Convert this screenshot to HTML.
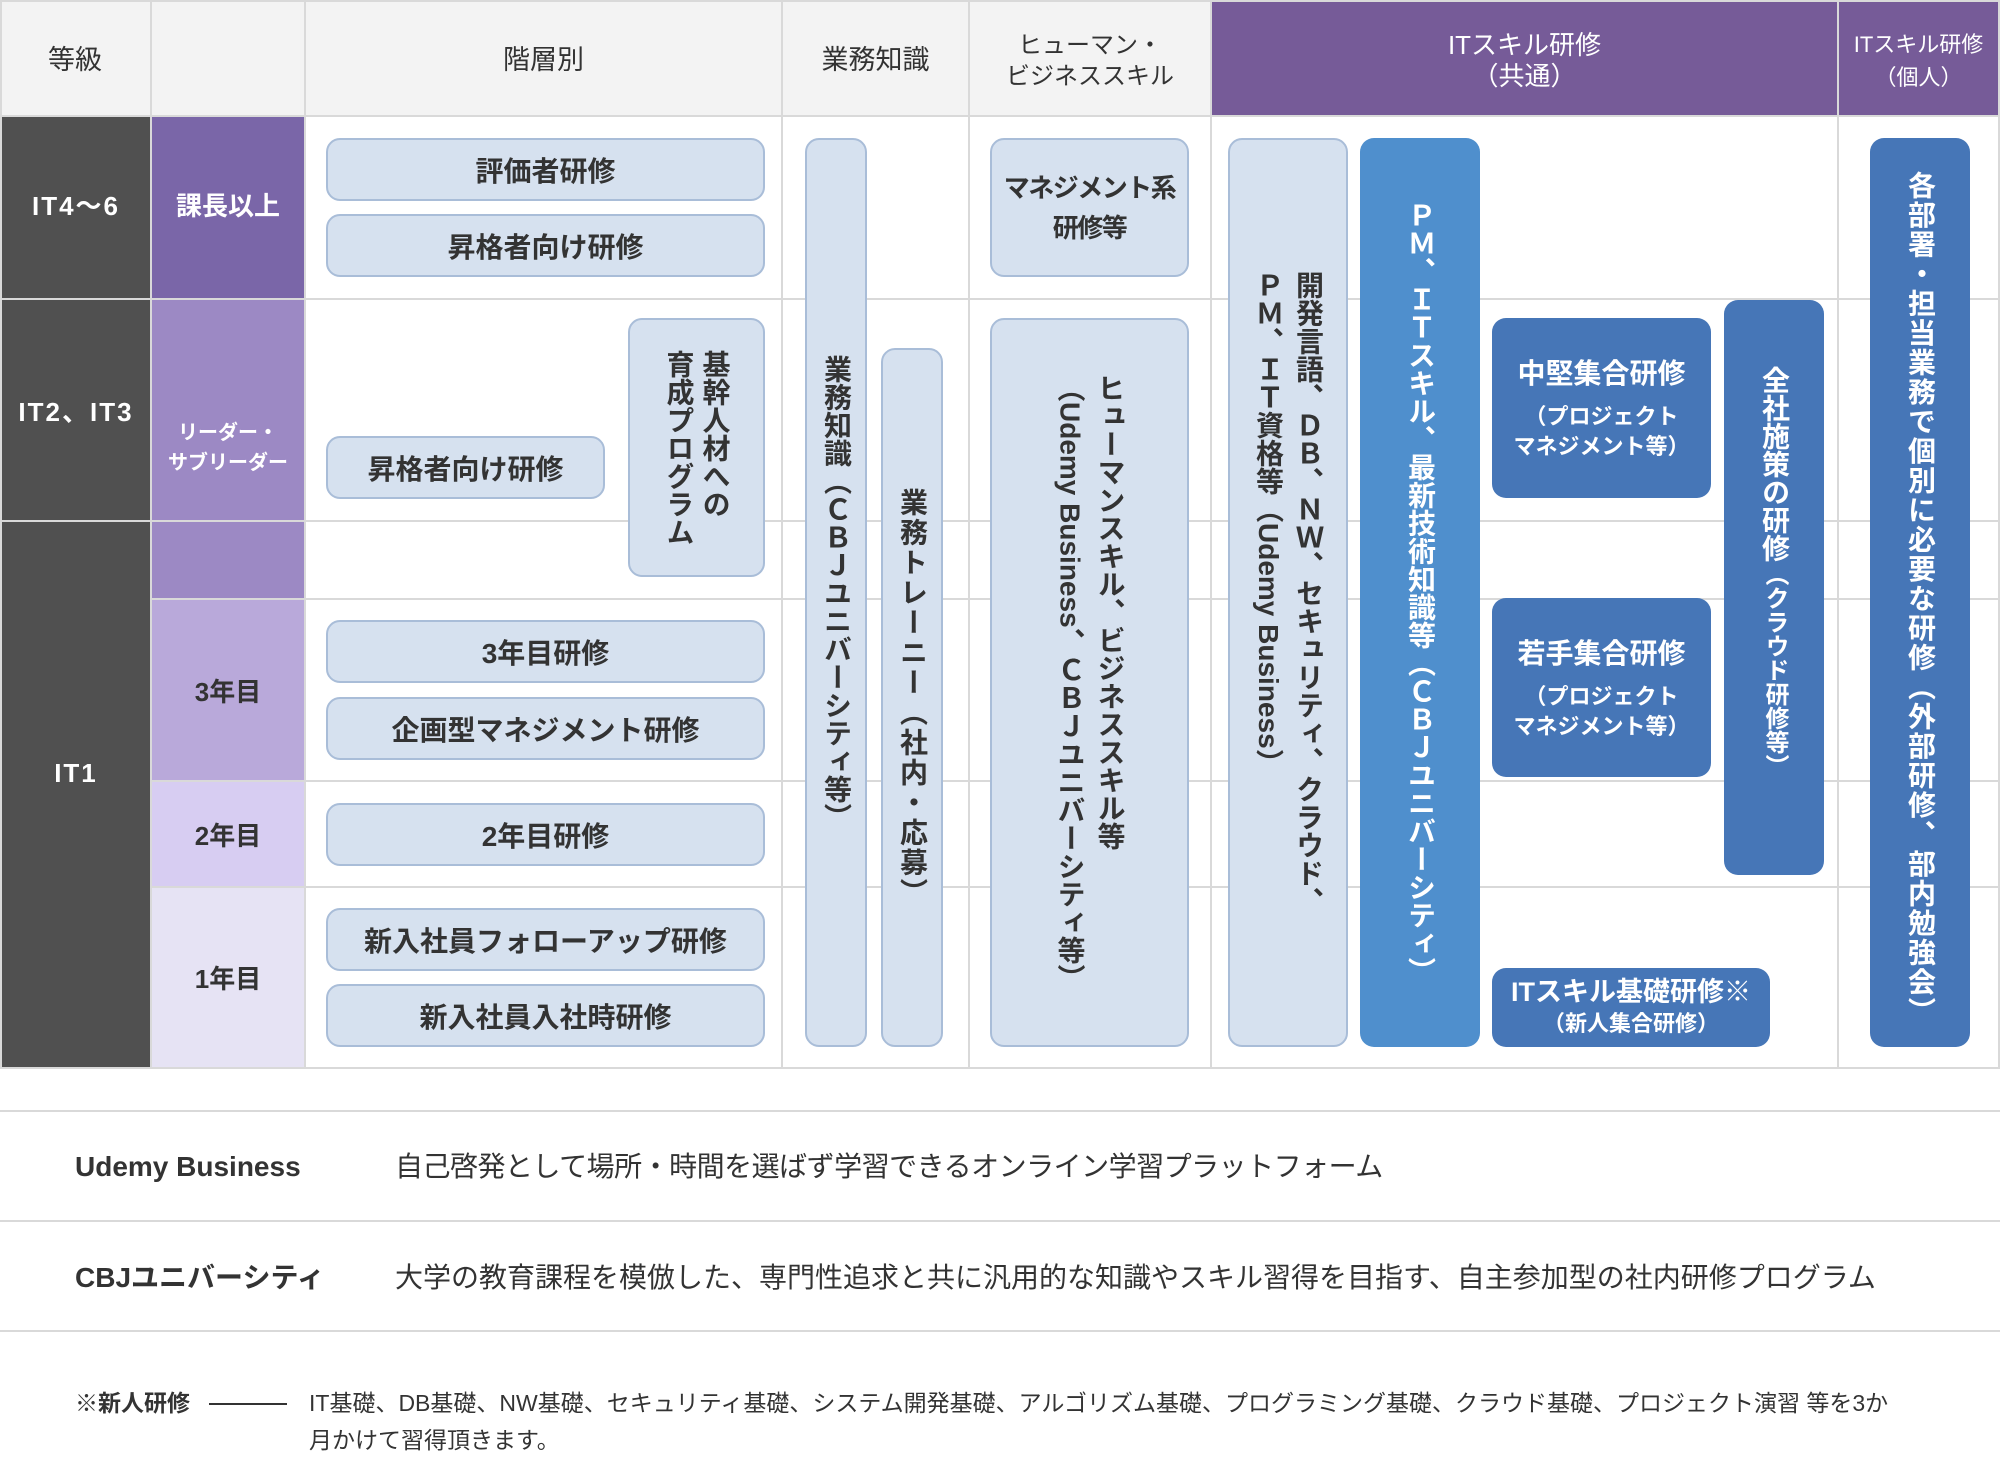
<!DOCTYPE html>
<html><head><meta charset="utf-8">
<style>
*{margin:0;padding:0;box-sizing:border-box}
html,body{width:2000px;height:1460px;background:#fff;overflow:hidden}
body{position:relative;font-family:"Liberation Sans","Noto Sans CJK JP",sans-serif;color:#333}
.a{position:absolute}
.c{position:absolute;display:flex;align-items:center;justify-content:center;text-align:center}
.hl{position:absolute;background:#d9d9d9;height:2px}
.vl{position:absolute;background:#d9d9d9;width:2px;top:0;height:1069px}
.lb{position:absolute;background:#d6e1ef;border:2px solid #a9bdd8;border-radius:14px;display:flex;align-items:center;justify-content:center;font-size:28px;font-weight:bold;color:#333;text-align:center}
.bb{position:absolute;background:#4676b7;border-radius:14px;color:#fff;font-weight:bold;display:flex;align-items:center;justify-content:center;text-align:center}
.v{writing-mode:vertical-rl;font-size:28px;line-height:1;text-align:start;white-space:nowrap}
.hd{font-size:27px;line-height:31px;padding-top:6px}
</style></head><body>

<!-- header backgrounds -->
<div class="a" style="left:0;top:0;width:1211px;height:116px;background:#f3f3f3"></div>
<div class="a" style="left:1211px;top:0;width:789px;height:116px;background:#765b98"></div>

<!-- body column backgrounds -->
<div class="a" style="left:0;top:117px;width:151px;height:951px;background:#505050"></div>
<div class="a" style="left:151px;top:117px;width:154px;height:182px;background:#7a66a8"></div>
<div class="a" style="left:151px;top:299px;width:154px;height:300px;background:#9c89c4"></div>
<div class="a" style="left:151px;top:599px;width:154px;height:182px;background:#b9a9da"></div>
<div class="a" style="left:151px;top:781px;width:154px;height:106px;background:#d7cdf2"></div>
<div class="a" style="left:151px;top:887px;width:154px;height:181px;background:#e6e3f4"></div>

<!-- grid lines -->
<div class="hl" style="left:0;top:0;width:2000px"></div>
<div class="hl" style="left:0;top:115px;width:2000px"></div>
<div class="hl" style="left:0;top:298px;width:2000px"></div>
<div class="hl" style="left:0;top:520px;width:2000px"></div>
<div class="hl" style="left:151px;top:598px;width:1849px"></div>
<div class="hl" style="left:151px;top:780px;width:1849px"></div>
<div class="hl" style="left:151px;top:886px;width:1849px"></div>
<div class="hl" style="left:0;top:1067px;width:2000px"></div>
<div class="vl" style="left:0"></div>
<div class="vl" style="left:150px"></div>
<div class="vl" style="left:304px"></div>
<div class="vl" style="left:781px"></div>
<div class="vl" style="left:968px"></div>
<div class="vl" style="left:1210px"></div>
<div class="vl" style="left:1837px"></div>
<div class="vl" style="left:1998px"></div>

<!-- header texts -->
<div class="c hd" style="left:0;top:0;width:150px;height:115px">等級</div>
<div class="c hd" style="left:306px;top:0;width:475px;height:115px">階層別</div>
<div class="c hd" style="left:783px;top:0;width:185px;height:115px">業務知識</div>
<div class="c hd" style="left:970px;top:0;width:240px;height:115px;font-size:24px">ヒューマン・<br>ビジネススキル</div>
<div class="c hd" style="left:1212px;top:0;width:625px;height:115px;color:#fff;font-size:26px">ITスキル研修<br>（共通）</div>
<div class="c hd" style="left:1839px;top:0;width:159px;height:115px;color:#fff;font-size:22px;line-height:33px;white-space:nowrap">ITスキル研修<br>（個人）</div>

<!-- left column labels -->
<div class="c" style="left:2px;top:117px;width:148px;height:174px;color:#fff;font-weight:bold;font-size:26px;letter-spacing:2px">IT4〜6</div>
<div class="c" style="left:2px;top:300px;width:148px;height:220px;color:#fff;font-weight:bold;font-size:26px;letter-spacing:2px">IT2、IT3</div>
<div class="c" style="left:2px;top:521px;width:148px;height:504px;color:#fff;font-weight:bold;font-size:26px;letter-spacing:2px">IT1</div>

<div class="c" style="left:152px;top:117px;width:152px;height:174px;color:#fff;font-weight:bold;font-size:26px">課長以上</div>
<div class="c" style="left:152px;top:300px;width:152px;height:296px;color:#fff;font-weight:bold;font-size:20px;line-height:30px">リーダー・<br>サブリーダー</div>
<div class="c" style="left:152px;top:600px;width:152px;height:180px;font-weight:bold;font-size:26px">3年目</div>
<div class="c" style="left:152px;top:782px;width:152px;height:104px;font-weight:bold;font-size:26px">2年目</div>
<div class="c" style="left:152px;top:888px;width:152px;height:179px;font-weight:bold;font-size:26px">1年目</div>

<!-- 階層別 boxes -->
<div class="lb" style="left:326px;top:138px;width:439px;height:63px">評価者研修</div>
<div class="lb" style="left:326px;top:214px;width:439px;height:63px">昇格者向け研修</div>
<div class="lb" style="left:326px;top:436px;width:279px;height:63px">昇格者向け研修</div>
<div class="lb" style="left:628px;top:318px;width:137px;height:259px"><div class="v" style="line-height:36px">基幹人材への<br>育成プログラム</div></div>
<div class="lb" style="left:326px;top:620px;width:439px;height:63px">3年目研修</div>
<div class="lb" style="left:326px;top:697px;width:439px;height:63px">企画型マネジメント研修</div>
<div class="lb" style="left:326px;top:803px;width:439px;height:63px">2年目研修</div>
<div class="lb" style="left:326px;top:908px;width:439px;height:63px">新入社員フォローアップ研修</div>
<div class="lb" style="left:326px;top:984px;width:439px;height:63px">新入社員入社時研修</div>

<!-- 業務知識 -->
<div class="lb" style="left:805px;top:138px;width:62px;height:909px"><div class="v">業務知識（ＣＢＪユニバーシティ等）</div></div>
<div class="lb" style="left:881px;top:348px;width:62px;height:699px"><div class="v" style="letter-spacing:2px">業務トレーニー（社内・応募）</div></div>

<!-- ヒューマン -->
<div class="lb" style="left:990px;top:138px;width:199px;height:139px;line-height:40px;font-size:26px;letter-spacing:-1.5px;white-space:nowrap">マネジメント系<br>研修等</div>
<div class="lb" style="left:990px;top:318px;width:199px;height:729px"><div class="v" style="line-height:40px">ヒューマンスキル、ビジネススキル等<br>（Udemy Business、ＣＢＪユニバーシティ等）</div></div>

<!-- ITスキル共通 -->
<div class="lb" style="left:1228px;top:138px;width:120px;height:909px"><div class="v" style="line-height:40px">開発言語、ＤＢ、ＮＷ、セキュリティ、クラウド、<br>ＰＭ、ＩＴ資格等（Udemy Business）</div></div>
<div class="bb" style="left:1360px;top:138px;width:120px;height:909px;background:#4f8fcd"><div class="v">ＰＭ、ＩＴスキル、最新技術知識等（ＣＢＪユニバーシティ）</div></div>

<div class="bb" style="left:1492px;top:318px;width:219px;height:180px;flex-direction:column">
  <div style="font-size:28px;line-height:40px">中堅集合研修</div>
  <div style="font-size:22px;line-height:30px;margin-top:8px">（プロジェクト<br>マネジメント等）</div>
</div>
<div class="bb" style="left:1492px;top:598px;width:219px;height:179px;flex-direction:column">
  <div style="font-size:28px;line-height:40px">若手集合研修</div>
  <div style="font-size:22px;line-height:30px;margin-top:8px">（プロジェクト<br>マネジメント等）</div>
</div>
<div class="bb" style="left:1492px;top:968px;width:278px;height:79px;flex-direction:column">
  <div style="font-size:27px;line-height:32px">ITスキル基礎研修※</div>
  <div style="font-size:22px;line-height:32px">（新人集合研修）</div>
</div>
<div class="bb" style="left:1724px;top:300px;width:100px;height:575px;align-items:flex-start;padding-top:66px"><div class="v"><span style="font-size:28px">全社施策の研修</span><span style="font-size:24px">（クラウド研修等）</span></div></div>

<!-- 個人 -->
<div class="bb" style="left:1870px;top:138px;width:100px;height:909px;align-items:flex-start;padding-top:33px"><div class="v" style="letter-spacing:1.5px">各部署・担当業務で個別に必要な研修（外部研修、部内勉強会）</div></div>

<!-- legend -->
<div class="hl" style="left:0;top:1110px;width:2000px"></div>
<div class="hl" style="left:0;top:1220px;width:2000px"></div>
<div class="hl" style="left:0;top:1330px;width:2000px"></div>

<div class="a" style="left:75px;top:1147px;font-size:28px;line-height:40px;font-weight:bold">Udemy Business</div>
<div class="a" style="left:395px;top:1147px;font-size:28px;line-height:40px;letter-spacing:-0.5px;white-space:nowrap">自己啓発として場所・時間を選ばず学習できるオンライン学習プラットフォーム</div>
<div class="a" style="left:75px;top:1258px;font-size:28px;line-height:40px;font-weight:bold">CBJユニバーシティ</div>
<div class="a" style="left:395px;top:1258px;font-size:28px;line-height:40px;white-space:nowrap">大学の教育課程を模倣した、専門性追求と共に汎用的な知識やスキル習得を目指す、自主参加型の社内研修プログラム</div>

<div class="a" style="left:75px;top:1385px;font-size:23px;line-height:37px;font-weight:bold">※新人研修</div>
<div class="a" style="left:209px;top:1403px;width:78px;height:1.5px;background:#333"></div>
<div class="a" style="left:309px;top:1385px;font-size:23px;line-height:37px;white-space:nowrap">IT基礎、DB基礎、NW基礎、セキュリティ基礎、システム開発基礎、アルゴリズム基礎、プログラミング基礎、クラウド基礎、プロジェクト演習 等を3か<br>月かけて習得頂きます。</div>

</body></html>
